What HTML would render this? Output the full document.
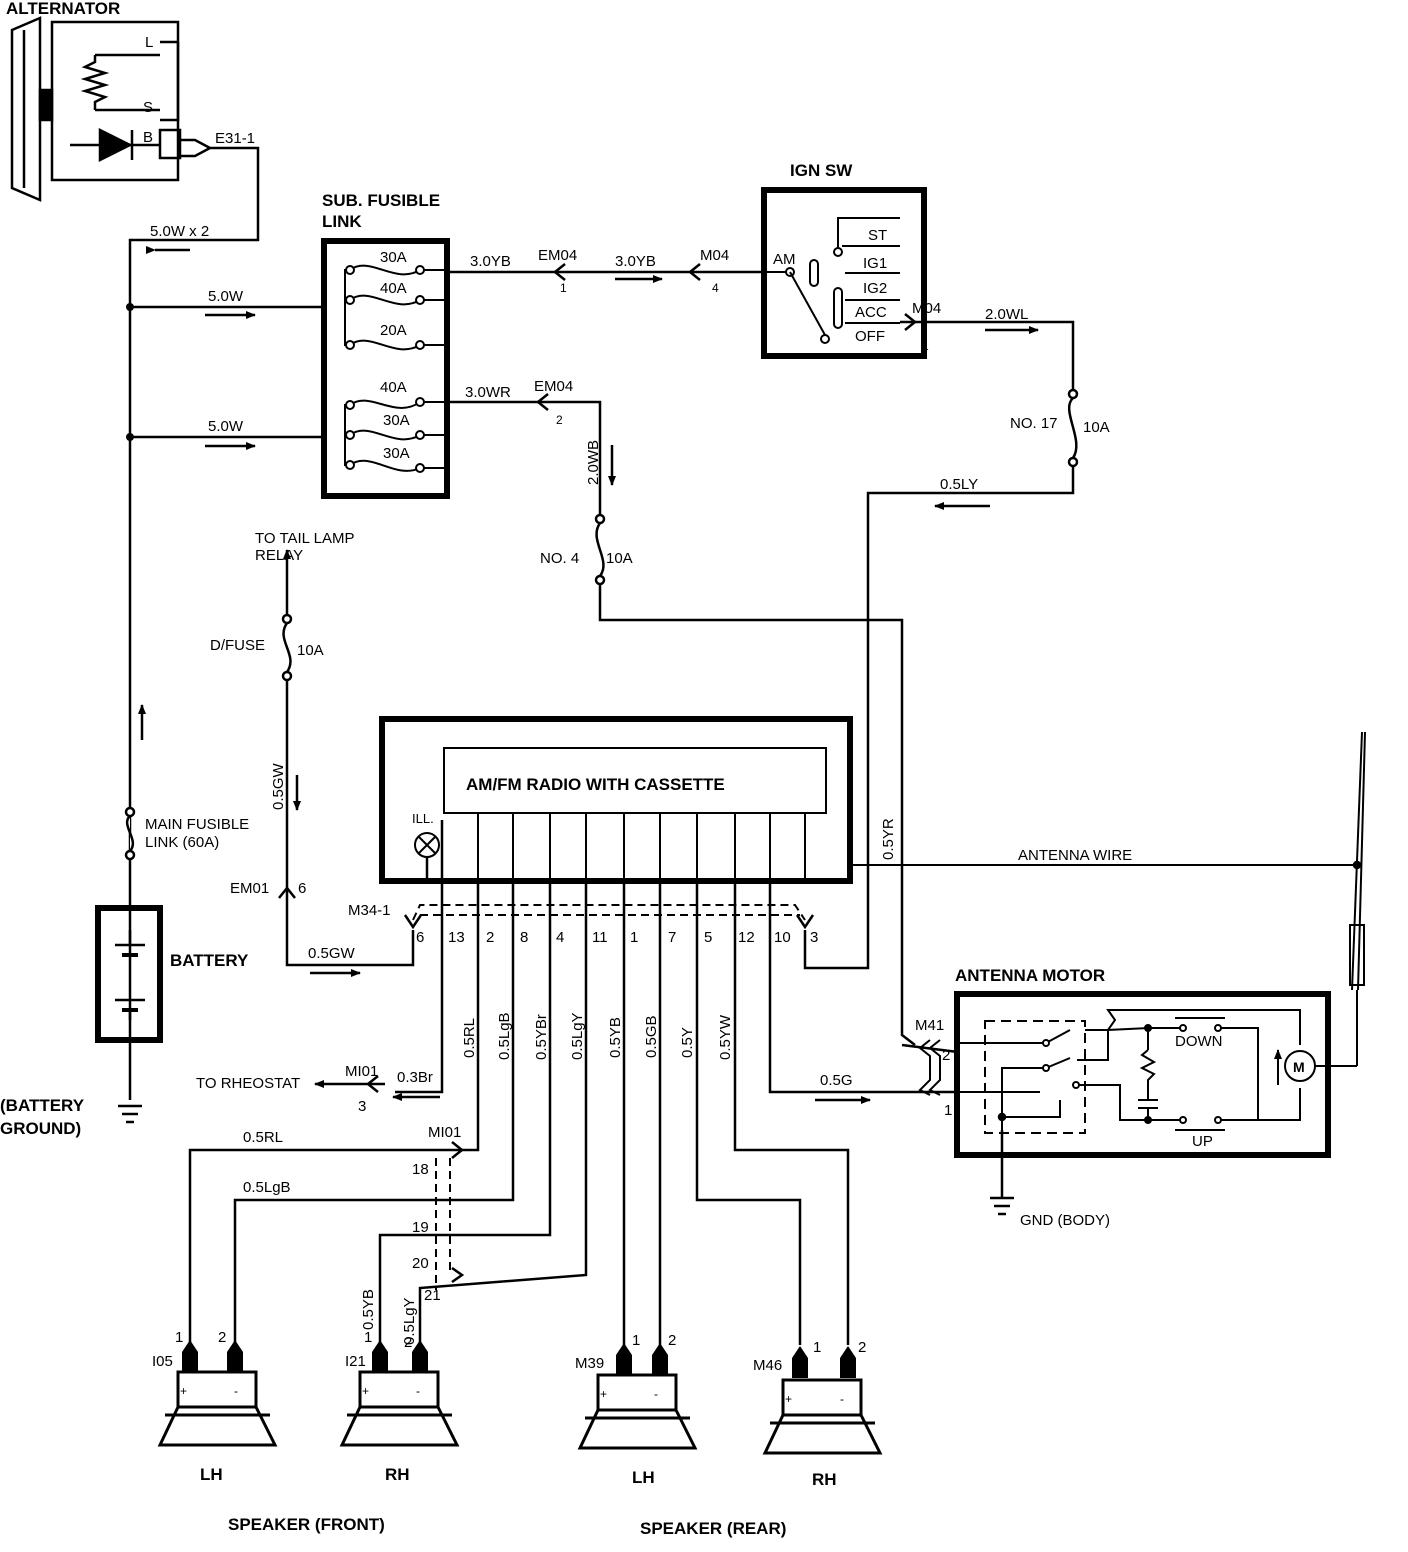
<!DOCTYPE html>
<html><head><meta charset="utf-8">
<style>
html,body{margin:0;padding:0;background:#fff;}
svg{display:block;}
text{font-family:"Liberation Sans",Arial,sans-serif;fill:#000;}
.b{font-weight:bold;}
</style></head>
<body>
<svg width="1408" height="1552" viewBox="0 0 1408 1552" xmlns="http://www.w3.org/2000/svg">
<defs>
<marker id="ah" markerWidth="10" markerHeight="8" refX="9" refY="4" orient="auto" markerUnits="userSpaceOnUse">
<path d="M0,0 L10,4 L0,8 z" fill="#000"/></marker>
</defs>
<g fill="none" stroke="#000" stroke-width="2.5">
<!-- Alternator -->
<path d="M12,30 L40,18 L40,200 L12,188 Z"/>
<line x1="24" y1="30" x2="24" y2="188"/>
<rect x="40" y="90" width="12" height="30" fill="#000"/>
<rect x="52" y="22" width="126" height="158"/>
<path d="M95,55 L95,62 L85,67 L105,73 L85,79 L105,85 L85,91 L105,97 L95,102 L95,110"/>
<polyline points="95,55 160,55"/>
<polyline points="95,110 160,110"/>
<polyline points="160,42 178,42"/>
<polyline points="178,42 178,120 160,120"/>
<line x1="70" y1="145" x2="160" y2="145"/>
<path d="M100,130 L100,160 L130,145 Z" fill="#000"/>
<line x1="132" y1="130" x2="132" y2="160"/>
<rect x="160" y="130" width="20" height="28"/>
<path d="M178,140 L195,140 L210,148 L195,156 L178,156"/>
<!-- B+ wire -->
<polyline points="210,148 258,148 258,240 130,240 130,1100"/>
<line x1="155" y1="250" x2="190" y2="250" marker-start="url(#ah)"/>
<polyline points="130,307 325,307"/>
<polyline points="130,437 325,437"/>
<line x1="205" y1="315" x2="255" y2="315" marker-end="url(#ah)"/>
<line x1="205" y1="446" x2="255" y2="446" marker-end="url(#ah)"/>
<line x1="142" y1="740" x2="142" y2="705" marker-end="url(#ah)"/>
<!-- main fusible link -->
<circle cx="130" cy="812" r="4" fill="#fff"/>
<circle cx="130" cy="855" r="4" fill="#fff"/>
<path d="M130,816 C120,825 140,840 130,851" fill="#fff"/>
<!-- battery -->
<rect x="98" y="908" width="62" height="132" stroke-width="6"/>
<line x1="115" y1="945" x2="145" y2="945"/>
<line x1="122" y1="955" x2="138" y2="955" stroke-width="4"/>
<line x1="115" y1="1000" x2="145" y2="1000"/>
<line x1="122" y1="1010" x2="138" y2="1010" stroke-width="4"/>
<line x1="130" y1="945" x2="130" y2="930"/>
<line x1="130" y1="1010" x2="130" y2="1020"/>
<line x1="118" y1="1106" x2="142" y2="1106"/>
<line x1="122" y1="1114" x2="138" y2="1114"/>
<line x1="126" y1="1122" x2="134" y2="1122"/>
<!-- sub fusible link box -->
<rect x="324" y="241" width="123" height="255" stroke-width="6"/>
<g stroke-width="2">
<path d="M350,270 C370,255 395,285 420,270"/><path d="M350,300 C370,285 395,315 420,300"/><path d="M350,345 C370,330 395,360 420,345"/>
<path d="M350,405 C370,390 395,420 420,402"/><path d="M350,435 C370,420 395,450 420,435"/><path d="M350,465 C370,450 395,480 420,468"/>
<polyline points="345,307 345,270 350,270"/><polyline points="345,307 345,345 350,345"/>
<polyline points="345,437 345,405 350,405"/><polyline points="345,437 345,465 350,465"/>
<polyline points="420,270 447,270"/><polyline points="420,300 447,300"/><polyline points="420,345 447,345"/>
<polyline points="420,402 447,402"/><polyline points="420,435 447,435"/><polyline points="420,468 447,468"/>
</g>
<g fill="#fff" stroke-width="2">
<circle cx="350" cy="270" r="4"/><circle cx="420" cy="270" r="4"/><circle cx="350" cy="300" r="4"/><circle cx="420" cy="300" r="4"/>
<circle cx="350" cy="345" r="4"/><circle cx="420" cy="345" r="4"/><circle cx="350" cy="405" r="4"/><circle cx="420" cy="402" r="4"/>
<circle cx="350" cy="435" r="4"/><circle cx="420" cy="435" r="4"/><circle cx="350" cy="465" r="4"/><circle cx="420" cy="468" r="4"/>
</g>
<!-- 3.0YB -->
<line x1="447" y1="272" x2="765" y2="272"/>
<path d="M565,264 L555,272 L565,280"/><path d="M700,264 L690,272 L700,280"/>
<line x1="615" y1="279" x2="662" y2="279" marker-end="url(#ah)"/>
<!-- IGN SW -->
<rect x="764" y="190" width="160" height="166" stroke-width="6"/>
<g stroke-width="2">
<line x1="790" y1="272" x2="765" y2="272"/>
<circle cx="790" cy="272" r="4" fill="#fff"/>
<line x1="790" y1="272" x2="825" y2="335"/>
<circle cx="825" cy="339" r="4" fill="#fff"/>
<rect x="810" y="260" width="8" height="26" rx="4"/>
<circle cx="838" cy="252" r="4" fill="#fff"/><polyline points="838,248 838,218 900,218"/>
<line x1="842" y1="246" x2="900" y2="246"/><line x1="845" y1="273" x2="900" y2="273"/><line x1="845" y1="300" x2="900" y2="300"/><line x1="845" y1="323" x2="900" y2="323"/>
<rect x="834" y="288" width="8" height="40" rx="4"/>
</g>
<!-- M04 2.0WL -->
<path d="M900,322 L1073,322 L1073,390"/>
<path d="M905,314 L915,322 L905,330"/>
<line x1="985" y1="330" x2="1038" y2="330" marker-end="url(#ah)"/>
<circle cx="1073" cy="394" r="4" fill="#fff"/><circle cx="1073" cy="462" r="4" fill="#fff"/>
<path d="M1073,398 C1060,410 1085,440 1073,458"/>
<polyline points="1073,466 1073,493 868,493 868,968 805,968 805,930"/>
<line x1="990" y1="506" x2="935" y2="506" marker-end="url(#ah)"/>
<!-- 3.0WR -->
<polyline points="447,402 600,402 600,515"/>
<path d="M548,394 L538,402 L548,410"/>
<line x1="612" y1="445" x2="612" y2="485" marker-end="url(#ah)"/>
<circle cx="600" cy="519" r="4" fill="#fff"/><circle cx="600" cy="580" r="4" fill="#fff"/>
<path d="M600,523 C588,540 612,560 600,576"/>
<polyline points="600,584 600,620 902,620 902,1035 915,1045"/>
<!-- D/FUSE, 0.5GW -->
<line x1="287" y1="595" x2="287" y2="550" marker-end="url(#ah)"/>
<line x1="287" y1="595" x2="287" y2="615"/>
<circle cx="287" cy="619" r="4" fill="#fff"/><circle cx="287" cy="676" r="4" fill="#fff"/>
<path d="M287,623 C275,640 299,655 287,672"/>
<polyline points="287,680 287,965 413,965 413,930"/>
<line x1="297" y1="775" x2="297" y2="810" marker-end="url(#ah)"/>
<path d="M279,898 L287,888 L295,898"/>
<line x1="310" y1="973" x2="360" y2="973" marker-end="url(#ah)"/>
<!-- radio -->
<rect x="382" y="719" width="468" height="162" stroke-width="6"/>
<rect x="444" y="748" width="382" height="65" stroke-width="2"/>
<circle cx="427" cy="845" r="12" stroke-width="2"/>
<line x1="419" y1="837" x2="435" y2="853" stroke-width="2"/><line x1="435" y1="837" x2="419" y2="853" stroke-width="2"/>
<line x1="427" y1="857" x2="427" y2="881"/><line x1="442" y1="820" x2="442" y2="881"/>
<g stroke-width="2">
<line x1="478" y1="813" x2="478" y2="881"/><line x1="513" y1="813" x2="513" y2="881"/><line x1="550" y1="813" x2="550" y2="881"/>
<line x1="586" y1="813" x2="586" y2="881"/><line x1="624" y1="813" x2="624" y2="881"/><line x1="660" y1="813" x2="660" y2="881"/>
<line x1="697" y1="813" x2="697" y2="881"/><line x1="735" y1="813" x2="735" y2="881"/><line x1="770" y1="813" x2="770" y2="881"/><line x1="805" y1="813" x2="805" y2="881"/>
</g>
<line x1="850" y1="865" x2="1357" y2="865" stroke-width="2"/>
<!-- connector M34-1 -->
<path d="M413,920 L420,905 L795,905 L805,920" stroke-dasharray="8,5" stroke-width="2"/>
<path d="M420,915 L800,915" stroke-dasharray="8,5" stroke-width="2"/>
<path d="M405,915 L413,927 L421,915"/><path d="M797,915 L805,927 L813,915"/>
<!-- wires below radio -->
<polyline points="442,881 442,1092 395,1092"/>
<line x1="440" y1="1097" x2="393" y2="1097" marker-end="url(#ah)"/>
<line x1="385" y1="1084" x2="315" y2="1084" marker-end="url(#ah)"/>
<path d="M378,1076 L368,1084 L378,1092"/>
<polyline points="478,881 478,1150 190,1150 190,1345"/>
<polyline points="513,881 513,1200 235,1200 235,1345"/>
<polyline points="550,881 550,1235 380,1235 380,1345"/>
<polyline points="586,881 586,1275 420,1288 420,1345"/>
<polyline points="624,881 624,1345"/><polyline points="660,881 660,1345"/>
<polyline points="697,881 697,1200 800,1200 800,1345"/>
<polyline points="735,881 735,1150 848,1150 848,1345"/>
<polyline points="770,881 770,1092 915,1092"/>
<line x1="815" y1="1100" x2="870" y2="1100" marker-end="url(#ah)"/>
<!-- MI01 connector -->
<path d="M452,1142 L462,1150 L452,1158"/><path d="M452,1268 L462,1275 L452,1282"/>
<path d="M436,1158 L436,1290" stroke-dasharray="8,5" stroke-width="2"/>
<path d="M450,1158 L450,1270" stroke-dasharray="8,5" stroke-width="2"/>
<!-- M41 -->
<path d="M930,1040 L920,1048 L930,1056 L930,1080 L920,1090 L930,1095" stroke-width="2"/>
<path d="M940,1040 L930,1048 L940,1056 L940,1080 L930,1090 L940,1095" stroke-width="2"/>
<line x1="902" y1="1045" x2="958" y2="1052"/>
<line x1="915" y1="1092" x2="958" y2="1092"/>
<!-- antenna motor -->
<rect x="957" y="994" width="371" height="161" stroke-width="6"/>
<g stroke-width="2">
<rect x="985" y="1021" width="100" height="112" stroke-dasharray="10,6"/>
<polyline points="958,1043 1046,1043 1070,1030"/><polyline points="1085,1030 1108,1030 1115,1020 1108,1010 1300,1010 1300,1045"/>
<polyline points="1002,1130 1002,1068 1046,1068 1070,1058"/><polyline points="1077,1060 1108,1060 1108,1030 1148,1028 1183,1028"/>
<polyline points="1076,1085 1120,1085 1120,1120 1183,1120"/>
<polyline points="958,1092 1040,1092"/><polyline points="1002,1117 1060,1117 1060,1100"/>
<circle cx="1046" cy="1043" r="3" fill="#fff"/><circle cx="1046" cy="1068" r="3" fill="#fff"/><circle cx="1076" cy="1085" r="3" fill="#fff"/>
<line x1="1148" y1="1028" x2="1148" y2="1050"/>
<path d="M1148,1050 L1142,1055 L1154,1062 L1142,1068 L1154,1074 L1148,1080 L1148,1100"/>
<line x1="1138" y1="1100" x2="1158" y2="1100"/><line x1="1138" y1="1108" x2="1158" y2="1108"/><line x1="1148" y1="1108" x2="1148" y2="1120"/>
<circle cx="1148" cy="1028" r="3" fill="#000"/><circle cx="1148" cy="1120" r="3" fill="#000"/>
<circle cx="1183" cy="1028" r="3" fill="#fff"/><circle cx="1218" cy="1028" r="3" fill="#fff"/>
<circle cx="1183" cy="1120" r="3" fill="#fff"/><circle cx="1218" cy="1120" r="3" fill="#fff"/>
<line x1="1175" y1="1018" x2="1225" y2="1018"/><line x1="1175" y1="1130" x2="1225" y2="1130"/>
<polyline points="1221,1028 1258,1028 1258,1120 1221,1120"/>
<polyline points="1258,1120 1300,1120 1300,1088"/>
<circle cx="1300" cy="1066" r="15"/>
<line x1="1315" y1="1066" x2="1357" y2="1066"/>
</g>
<line x1="1278" y1="1085" x2="1278" y2="1050" marker-end="url(#ah)" stroke-width="2"/>
<circle cx="1002" cy="1117" r="3" fill="#000"/>
<line x1="1002" y1="1130" x2="1002" y2="1198"/>
<line x1="990" y1="1198" x2="1014" y2="1198"/><line x1="994" y1="1206" x2="1010" y2="1206"/><line x1="998" y1="1214" x2="1006" y2="1214"/>
<!-- antenna -->
<line x1="1362" y1="732" x2="1352" y2="990" stroke-width="2"/>
<line x1="1365" y1="732" x2="1358" y2="990" stroke-width="2"/>
<rect x="1350" y="925" width="14" height="60" stroke-width="2"/>
<line x1="1357" y1="990" x2="1357" y2="1066" stroke-width="2"/>
<circle cx="1357" cy="865" r="3" fill="#000"/>
</g>
<g fill="#000">
<circle cx="130" cy="307" r="4"/><circle cx="130" cy="437" r="4"/>
</g>
<!-- speakers -->
<g fill="none" stroke="#000" stroke-width="3">
<g transform="translate(0,0)">
<rect x="178" y="1372" width="78" height="35"/><path d="M178,1407 L160,1445 L275,1445 L256,1407"/>
<line x1="165" y1="1415" x2="270" y2="1415"/>
</g>
<g transform="translate(182,0)">
<rect x="178" y="1372" width="78" height="35"/><path d="M178,1407 L160,1445 L275,1445 L256,1407"/>
<line x1="165" y1="1415" x2="270" y2="1415"/>
</g>
<g transform="translate(420,0)">
<rect x="178" y="1375" width="78" height="35"/><path d="M178,1410 L160,1448 L275,1448 L256,1410"/>
<line x1="165" y1="1418" x2="270" y2="1418"/>
</g>
<g transform="translate(605,5)">
<rect x="178" y="1375" width="78" height="35"/><path d="M178,1410 L160,1448 L275,1448 L256,1410"/>
<line x1="165" y1="1418" x2="270" y2="1418"/>
</g>
</g>
<g fill="#000">
<path d="M182,1372 L182,1352 L190,1340 L198,1352 L198,1372Z"/><path d="M227,1372 L227,1352 L235,1340 L243,1352 L243,1372Z"/>
<path d="M372,1372 L372,1352 L380,1340 L388,1352 L388,1372Z"/><path d="M412,1372 L412,1352 L420,1340 L428,1352 L428,1372Z"/>
<path d="M616,1375 L616,1355 L624,1343 L632,1355 L632,1375Z"/><path d="M652,1375 L652,1355 L660,1343 L668,1355 L668,1375Z"/>
<path d="M792,1378 L792,1358 L800,1346 L808,1358 L808,1378Z"/><path d="M840,1378 L840,1358 L848,1346 L856,1358 L856,1378Z"/>
</g>
<!-- text -->
<g font-size="15">
<text x="6" y="14" class="b" font-size="17">ALTERNATOR</text>
<text x="145" y="47">L</text><text x="143" y="112">S</text><text x="143" y="142">B</text>
<text x="215" y="143">E31-1</text>
<text x="150" y="236">5.0W x 2</text>
<text x="208" y="301">5.0W</text><text x="208" y="431">5.0W</text>
<text x="322" y="206" class="b" font-size="17">SUB. FUSIBLE</text>
<text x="322" y="227" class="b" font-size="17">LINK</text>
<text x="380" y="262">30A</text><text x="380" y="293">40A</text><text x="380" y="335">20A</text>
<text x="380" y="392">40A</text><text x="383" y="425">30A</text><text x="383" y="458">30A</text>
<text x="470" y="266">3.0YB</text><text x="538" y="260">EM04</text><text x="560" y="292" font-size="12">1</text>
<text x="615" y="266">3.0YB</text><text x="700" y="260">M04</text><text x="712" y="292" font-size="12">4</text>
<text x="790" y="176" class="b" font-size="17">IGN SW</text>
<text x="773" y="264">AM</text>
<text x="868" y="240">ST</text><text x="863" y="268">IG1</text><text x="863" y="293">IG2</text><text x="855" y="317">ACC</text><text x="855" y="341">OFF</text>
<text x="912" y="313">M04</text><text x="922" y="350" font-size="12">1</text>
<text x="985" y="319">2.0WL</text>
<text x="1010" y="428">NO. 17</text><text x="1083" y="432">10A</text>
<text x="940" y="489">0.5LY</text>
<text x="465" y="397">3.0WR</text><text x="534" y="391">EM04</text><text x="556" y="424" font-size="12">2</text>
<text x="598" y="485" transform="rotate(-90 598 485)">2.0WB</text>
<text x="540" y="563">NO. 4</text><text x="606" y="563">10A</text>
<text x="255" y="543">TO TAIL LAMP</text><text x="255" y="560">RELAY</text>
<text x="210" y="650">D/FUSE</text><text x="297" y="655">10A</text>
<text x="283" y="810" transform="rotate(-90 283 810)">0.5GW</text>
<text x="230" y="893">EM01</text><text x="298" y="893">6</text>
<text x="308" y="958">0.5GW</text>
<text x="145" y="829">MAIN FUSIBLE</text><text x="145" y="847">LINK (60A)</text>
<text x="170" y="966" class="b" font-size="17">BATTERY</text>
<text x="0" y="1111" class="b" font-size="17">(BATTERY</text><text x="0" y="1134" class="b" font-size="17">GROUND)</text>
<text x="466" y="790" class="b" font-size="17">AM/FM RADIO WITH CASSETTE</text>
<text x="412" y="823" font-size="13">ILL.</text>
<text x="893" y="860" transform="rotate(-90 893 860)">0.5YR</text>
<text x="1018" y="860">ANTENNA WIRE</text>
<text x="348" y="915">M34-1</text>
<text x="416" y="942">6</text><text x="448" y="942">13</text><text x="486" y="942">2</text><text x="520" y="942">8</text>
<text x="556" y="942">4</text><text x="592" y="942">11</text><text x="630" y="942">1</text><text x="668" y="942">7</text>
<text x="704" y="942">5</text><text x="738" y="942">12</text><text x="774" y="942">10</text><text x="810" y="942">3</text>
<text x="474" y="1058" transform="rotate(-90 474 1058)">0.5RL</text>
<text x="509" y="1060" transform="rotate(-90 509 1060)">0.5LgB</text>
<text x="546" y="1060" transform="rotate(-90 546 1060)">0.5YBr</text>
<text x="582" y="1060" transform="rotate(-90 582 1060)">0.5LgY</text>
<text x="620" y="1058" transform="rotate(-90 620 1058)">0.5YB</text>
<text x="656" y="1058" transform="rotate(-90 656 1058)">0.5GB</text>
<text x="692" y="1058" transform="rotate(-90 692 1058)">0.5Y</text>
<text x="730" y="1060" transform="rotate(-90 730 1060)">0.5YW</text>
<text x="196" y="1088">TO RHEOSTAT</text><text x="345" y="1076">MI01</text><text x="358" y="1111">3</text>
<text x="397" y="1082">0.3Br</text>
<text x="243" y="1142">0.5RL</text><text x="243" y="1192">0.5LgB</text>
<text x="428" y="1137">MI01</text>
<text x="412" y="1174">18</text><text x="412" y="1232">19</text><text x="412" y="1268">20</text><text x="424" y="1300">21</text>
<text x="373" y="1330" transform="rotate(-90 373 1330)">0.5YB</text>
<text x="414" y="1345" transform="rotate(-90 414 1345)">0.5LgY</text>
<text x="820" y="1085">0.5G</text>
<text x="955" y="981" class="b" font-size="17">ANTENNA MOTOR</text>
<text x="915" y="1030">M41</text><text x="942" y="1060">2</text><text x="944" y="1115">1</text>
<text x="1175" y="1046">DOWN</text><text x="1192" y="1146">UP</text>
<text x="1293" y="1072" font-size="14" class="b">M</text>
<text x="1020" y="1225">GND (BODY)</text>
<text x="175" y="1342">1</text><text x="218" y="1342">2</text><text x="152" y="1366">I05</text>
<text x="364" y="1342">1</text><text x="404" y="1347">2</text><text x="345" y="1366">I21</text>
<text x="632" y="1345">1</text><text x="668" y="1345">2</text><text x="575" y="1368">M39</text>
<text x="813" y="1352">1</text><text x="858" y="1352">2</text><text x="753" y="1370">M46</text>
<text x="180" y="1395" font-size="12">+</text><text x="234" y="1395" font-size="12">-</text>
<text x="362" y="1395" font-size="12">+</text><text x="416" y="1395" font-size="12">-</text>
<text x="600" y="1398" font-size="12">+</text><text x="654" y="1398" font-size="12">-</text>
<text x="785" y="1403" font-size="12">+</text><text x="840" y="1403" font-size="12">-</text>
<text x="200" y="1480" class="b" font-size="17">LH</text><text x="385" y="1480" class="b" font-size="17">RH</text>
<text x="632" y="1483" class="b" font-size="17">LH</text><text x="812" y="1485" class="b" font-size="17">RH</text>
<text x="228" y="1530" class="b" font-size="17">SPEAKER (FRONT)</text>
<text x="640" y="1534" class="b" font-size="17">SPEAKER (REAR)</text>
</g>
</svg>
</body></html>
